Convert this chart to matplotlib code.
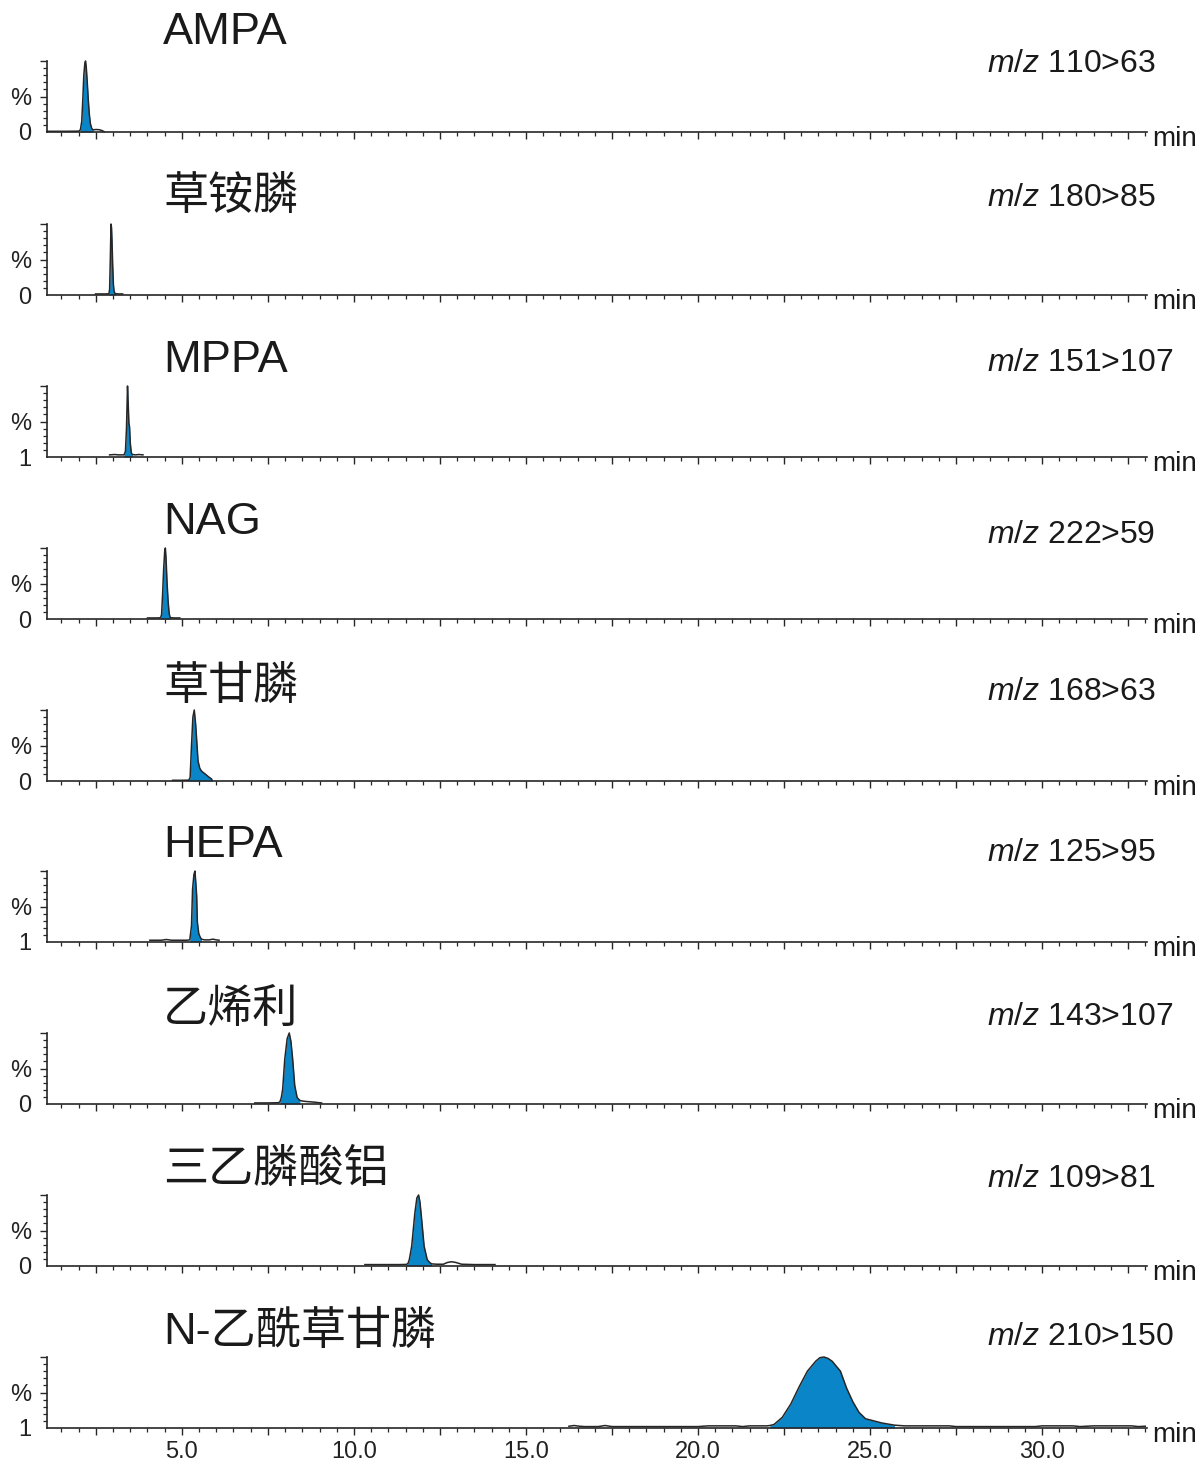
import matplotlib
matplotlib.use('Agg')
import matplotlib.pyplot as plt
from matplotlib.ticker import MultipleLocator, FixedLocator, FuncFormatter
import numpy as np

plt.rcParams['font.family'] = ['Liberation Sans', 'Noto Sans CJK SC']
plt.rcParams['mathtext.fontset'] = 'custom'
plt.rcParams['mathtext.it'] = 'Liberation Sans:italic'
plt.rcParams['mathtext.rm'] = 'Liberation Sans'

# ---------------- data ----------------
compounds = ['AMPA', '草铵膦', 'MPPA', 'NAG', '草甘膦', 'HEPA', '乙烯利', '三乙膦酸铝', 'N-乙酰草甘膦']
transitions = ['110>63', '180>85', '151>107', '222>59', '168>63', '125>95', '143>107', '109>81', '210>150']
bottom_labels = ['0', '0', '1', '0', '0', '1', '0', '0', '1']

t_ampa = [1.08, 1.60, 2.00, 2.05, 2.09, 2.12, 2.15, 2.18, 2.20, 2.22, 2.25, 2.28, 2.31, 2.34, 2.38, 2.42, 2.50, 2.60, 2.68, 2.74]
y_ampa = [1.0, 1.0, 1.2, 3, 15, 45, 80, 97, 100, 92, 70, 45, 25, 12, 5, 3, 3.5, 3.2, 2, 0.5]

t_glu = [2.49, 2.80, 2.88, 2.90, 2.92, 2.94, 2.955, 2.97, 2.99, 3.01, 3.03, 3.06, 3.15, 3.28]
y_glu = [1.5, 1.5, 1.8, 8, 50, 100, 95, 75, 40, 15, 5, 2, 1.5, 1.5]

t_mppa = [2.90, 3.05, 3.15, 3.25, 3.32, 3.36, 3.39, 3.42, 3.44, 3.46, 3.48, 3.50, 3.53, 3.56, 3.65, 3.75, 3.87]
y_mppa = [3, 3.5, 3, 3, 3, 8, 40, 100, 75, 48, 42, 20, 6, 3.5, 3, 3.5, 3]

t_nag = [4.00, 4.30, 4.38, 4.41, 4.44, 4.47, 4.50, 4.52, 4.54, 4.57, 4.60, 4.63, 4.66, 4.75, 4.94]
y_nag = [1.5, 1.5, 1.8, 6, 35, 70, 95, 100, 85, 50, 25, 8, 2, 1.5, 1.5]

t_gly = [4.73, 5.00, 5.20, 5.24, 5.28, 5.32, 5.36, 5.40, 5.43, 5.47, 5.52, 5.57, 5.62, 5.70, 5.77, 5.86, 5.88]
y_gly = [1.0, 1.0, 1.2, 5, 50, 90, 100, 80, 58, 28, 18, 14, 12, 9, 6, 3, 1]

t_hepa = [4.07, 4.40, 4.55, 4.70, 4.85, 5.00, 5.15, 5.23, 5.28, 5.31, 5.35, 5.38, 5.41, 5.43, 5.45, 5.49, 5.53, 5.57, 5.65, 5.80, 5.90, 6.00, 6.08]
y_hepa = [2.5, 2.5, 3.5, 2.5, 2.5, 2.5, 2.5, 3, 23, 74, 95, 100, 80, 65, 28, 12, 7, 4, 3, 3, 4, 3, 2.5]

t_eth = [7.12, 7.50, 7.80, 7.85, 7.89, 7.93, 7.99, 8.06, 8.12, 8.17, 8.22, 8.28, 8.35, 8.43, 8.52, 8.62, 8.75, 8.87, 8.95, 9.06]
y_eth = [1.5, 1.5, 1.8, 3, 9, 21, 63, 92, 100, 88, 63, 26, 9, 5, 4, 3.5, 3, 2.5, 2, 1.5]

t_fos = [10.32, 10.80, 11.30, 11.52, 11.57, 11.61, 11.68, 11.77, 11.83, 11.88, 11.92, 11.97, 12.04, 12.13, 12.20, 12.26, 12.40, 12.60, 12.72, 12.84, 12.96, 13.13, 13.50, 14.10]
y_fos = [2, 2, 2, 2.2, 3.5, 9, 28, 74, 96, 100, 90, 65, 28, 9, 5, 3, 2.5, 2.5, 5, 6, 5, 2.5, 2, 2]

t_nacgly = [16.25, 16.40, 16.55, 16.70, 17.10, 17.30, 17.50, 18.50, 20.00, 20.30, 21.10, 21.30, 21.50, 22.00, 22.09,
            22.21, 22.45, 22.70, 22.94, 23.18, 23.42, 23.54, 23.66, 23.78, 23.90, 24.14, 24.32, 24.50, 24.68, 24.87,
            25.11, 25.35, 25.71, 26.00, 27.30, 27.50, 29.80, 30.00, 30.90, 31.10, 31.50, 32.60, 32.80, 33.00]
y_nacgly = [2.5, 3.5, 2.5, 2, 2, 3.5, 2, 2, 2, 3, 3, 2, 3, 3, 3.5,
            5, 15, 34, 58, 80, 94, 99, 100, 98, 94, 80, 56, 37, 22, 13,
            10, 7, 4, 3, 3, 2, 2, 3, 3, 2, 3, 3, 2, 2.5]

times = [t_ampa, t_glu, t_mppa, t_nag, t_gly, t_hepa, t_eth, t_fos, t_nacgly]
intens = [y_ampa, y_glu, y_mppa, y_nag, y_gly, y_hepa, y_eth, y_fos, y_nacgly]
peak_windows = [(2.05, 2.42), (2.88, 3.06), (3.32, 3.56), (4.38, 4.66), (5.20, 5.88),
                (5.23, 5.57), (7.85, 8.43), (11.52, 12.26), (22.09, 25.71)]

# ---------------- layout ----------------
W, H = 1203, 1462
baseline_px = [132, 295, 457, 619, 781, 942, 1104, 1266, 1428]
title_px = [33, 197, 360, 522, 687, 846, 1010, 1170, 1332]
mz_px = [64, 198, 363, 535, 692, 853, 1017, 1179, 1337]
AX_L, AX_W, AX_H = 47, 1100, 71
BLUE = '#0a85c8'
DARK = '#262626'

fig = plt.figure(figsize=(W / 100, H / 100), dpi=100)

for i in range(9):
    base = baseline_px[i]
    ax = fig.add_axes([AX_L / W, 1 - base / H, AX_W / W, AX_H / H])
    t = np.array(times[i])
    y = np.array(intens[i])
    lo, hi = peak_windows[i]
    mask = (t >= lo) & (t <= hi)
    ax.fill_between(t, 0, y, where=mask, color=BLUE, lw=0, clip_on=False, zorder=2)
    ax.plot(t, y, color=DARK, lw=1.1, clip_on=False, zorder=3)

    ax.set_xlim(1.08, 33.05)
    ax.set_ylim(0, 100)
    for s in ['top', 'right']:
        ax.spines[s].set_visible(False)
    for s in ['left', 'bottom']:
        ax.spines[s].set_linewidth(1.2)
        ax.spines[s].set_color(DARK)

    ax.xaxis.set_major_locator(MultipleLocator(2.5))
    ax.xaxis.set_minor_locator(MultipleLocator(0.5))
    ax.yaxis.set_major_locator(FixedLocator([0, 50, 100]))
    ax.yaxis.set_minor_locator(MultipleLocator(10))
    ax.set_yticklabels([bottom_labels[i], '%', ''])
    ax.tick_params(which='major', length=5, width=1.0, color=DARK, labelsize=17, labelcolor='#222', pad=6)
    ax.tick_params(which='minor', length=2.8, width=0.9, color=DARK)
    ax.tick_params(axis='x', labelbottom=(i == 8), labelsize=17, pad=4)
    ax.yaxis.get_major_ticks()[0].tick1line.set_visible(False)
    if i == 8:
        ax.xaxis.set_major_formatter(FuncFormatter(
            lambda v, p: f'{v:.1f}' if abs(v / 5 - round(v / 5)) < 1e-6 else ''))

    fig.text(163 / W, 1 - title_px[i] / H, compounds[i], fontsize=32.5, ha='left', va='center', color='#1a1a1a')
    fig.text(987 / W, 1 - mz_px[i] / H, r'$m/z$ ' + transitions[i], fontsize=23, ha='left', va='center', color='#1a1a1a')
    fig.text(1152 / W, 1 - (base + 7) / H, 'min', fontsize=20, ha='left', va='center', color='#1a1a1a')

fig.savefig('out.png', dpi=100)
